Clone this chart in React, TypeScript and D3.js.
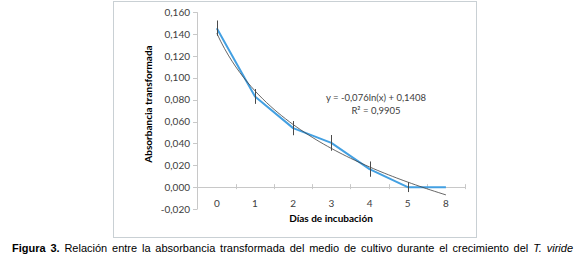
import React, { useEffect, useRef } from "react";
import * as d3 from "d3";

const categories = ["0", "1", "2", "3", "4", "5", "8"];
const absorbance = [0.1455, 0.083, 0.054, 0.0405, 0.0165, 0.0, 0.0];
const errors = [0.007, 0.0068, 0.0065, 0.0072, 0.007, 0.0045, 0];
const yTicks = [-0.02, 0, 0.02, 0.04, 0.06, 0.08, 0.1, 0.12, 0.14, 0.16];
const trendSlope = -0.076;
const trendIntercept = 0.1408;
const equationText = "y = -0,076ln(x) + 0,1408";
const r2Text = "R² = 0,9905";
const xTitle = "Días de incubación";
const yTitle = "Absorbancia transformada";

const W = 580;
const H = 256;

const locale = d3.formatLocale({
  decimal: ",",
  thousands: ".",
  grouping: [3],
  currency: ["", ""],
  minus: "-",
});
const fmt = locale.format(".3f");

export default function App() {
  const capRef = useRef<SVGTextElement>(null);

  const x = d3.scaleBand<string>().domain(categories).range([197.7, 465]).padding(0);
  const y = d3.scaleLinear().domain([-0.02, 0.16]).range([209, 12.3]);
  const bw = x.bandwidth();
  const cx = (c: string) => (x(c) as number) + bw / 2;

  const line = d3
    .line<number>()
    .x((_, i) => cx(categories[i]))
    .y((d) => y(d));

  const trendPts: [number, number][] = d3.range(1, 7.0001, 0.1).map((t) => [t, trendSlope * Math.log(t) + trendIntercept]);
  const trendLine = d3
    .line<[number, number]>()
    .x((d) => cx(categories[0]) + (d[0] - 1) * bw)
    .y((d) => y(d[1]));

  useEffect(() => {
    const el = capRef.current;
    if (!el) return;
    el.setAttribute("word-spacing", "0");
    const w = el.getComputedTextLength();
    const txt = el.textContent || "";
    const spaces = (txt.match(/ /g) || []).length;
    const target = 561;
    el.setAttribute("word-spacing", String((target - w) / spaces));
  }, []);

  const font = "Lato, 'Open Sans', sans-serif";
  const zeroY = y(0);

  return (
    <div style={{ position: "absolute", left: 0, top: 0, width: W, height: H, background: "#fff" }}>
      <svg width={W} height={H} style={{ display: "block" }}>
        <rect x={0} y={0} width={W} height={H} fill="#fff" />
        <rect x={113.5} y={1.5} width={363} height={236} fill="#fff" stroke="#c9d0d4" strokeWidth={1} />

        {/* y axis */}
        <line x1={197.5} x2={197.5} y1={y(0.16)} y2={y(-0.02)} stroke="#c8c8c8" />
        {yTicks.map((t) => (
          <g key={t}>
            <line x1={193} x2={197.5} y1={Math.round(y(t)) + 0.5} y2={Math.round(y(t)) + 0.5} stroke="#c8c8c8" />
            <text x={190} y={y(t)} dy="0.35em" textAnchor="end" fontFamily={font} fontSize={10} fill="#404040">
              {fmt(t)}
            </text>
          </g>
        ))}

        {/* x axis */}
        <line x1={197.5} x2={465} y1={Math.round(zeroY) + 0.5} y2={Math.round(zeroY) + 0.5} stroke="#c8c8c8" />
        {categories.map((c) => (
          <line
            key={"tk" + c}
            x1={Math.round((x(c) as number) + bw) + 0.5}
            x2={Math.round((x(c) as number) + bw) + 0.5}
            y1={zeroY - 3}
            y2={zeroY + 2}
            stroke="#c8c8c8"
          />
        ))}
        {categories.map((c) => (
          <text key={"lb" + c} x={cx(c)} y={207} textAnchor="middle" fontFamily={font} fontSize={10} fill="#404040">
            {c}
          </text>
        ))}

        {/* titles */}
        <text x={331} y={222} textAnchor="middle" fontFamily={font} fontSize={10} fontWeight="bold" fill="#000">
          {xTitle}
        </text>
        <text
          transform={`translate(151.5,104) rotate(-90)`}
          textAnchor="middle"
          fontFamily={font}
          fontSize={10}
          fontWeight="bold"
          fill="#000"
        >
          {yTitle}
        </text>

        {/* data line */}
        <path d={line(absorbance) || ""} fill="none" stroke="#43a0e2" strokeWidth={2} strokeLinejoin="round" />

        {/* trendline */}
        <path d={trendLine(trendPts) || ""} fill="none" stroke="#404040" strokeWidth={0.8} />

        {/* error bars */}
        {absorbance.map((v, i) =>
          errors[i] > 0 ? (
            <line
              key={"eb" + i}
              x1={Math.round(cx(categories[i])) + 0.5}
              x2={Math.round(cx(categories[i])) + 0.5}
              y1={y(v + errors[i])}
              y2={y(v - errors[i])}
              stroke="#4a4a4a"
              strokeWidth={1}
            />
          ) : null
        )}

        {/* equation */}
        <text x={376} y={101} textAnchor="middle" fontFamily={font} fontSize={9.5} fill="#404040">
          {equationText}
        </text>
        <text x={376} y={114} textAnchor="middle" fontFamily={font} fontSize={9.5} fill="#404040">
          {r2Text}
        </text>

        {/* caption */}
        <text ref={capRef} x={12} y={252} fontFamily="'Liberation Sans', Arial, sans-serif" fontSize={11} fill="#000">
          <tspan fontWeight="bold">Figura 3.</tspan>
          <tspan> Relación entre la absorbancia transformada del medio de cultivo durante el crecimiento del </tspan>
          <tspan fontStyle="italic">T. viride</tspan>
        </text>
      </svg>
    </div>
  );
}
